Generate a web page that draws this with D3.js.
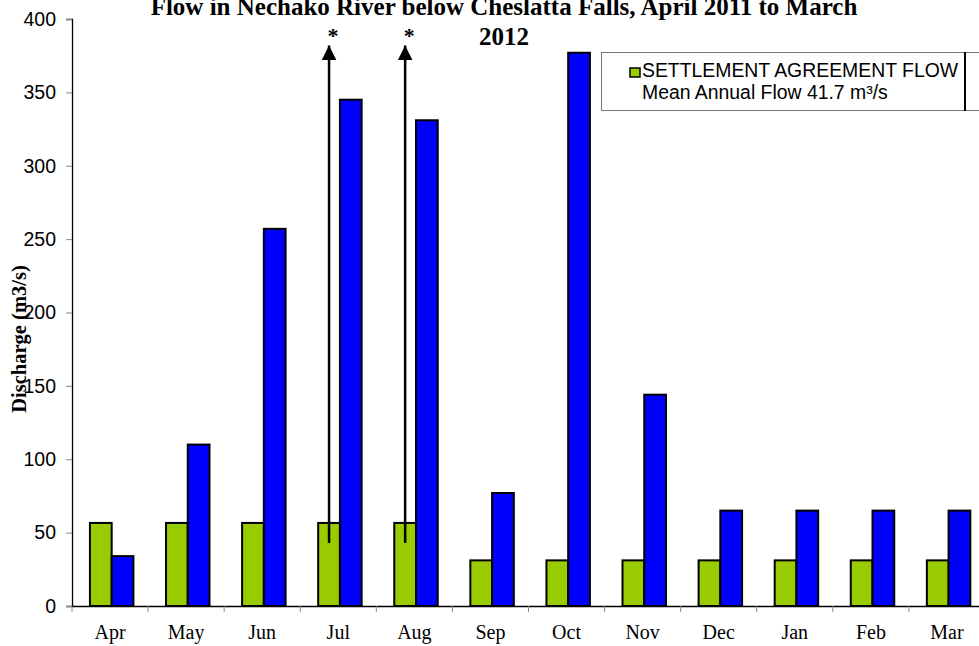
<!DOCTYPE html>
<html><head><meta charset="utf-8">
<script src="https://cdn.jsdelivr.net/npm/d3@7"></script>
<style>html,body{margin:0;padding:0;background:#fff;}svg{display:block;}</style>
</head><body>
<svg id="c" width="979" height="646"></svg>
<script>
const months = ["Apr","May","Jun","Jul","Aug","Sep","Oct","Nov","Dec","Jan","Feb","Mar"];
const settlementFlow = [56.6,56.6,56.6,56.6,56.6,31.1,31.1,31.1,31.1,31.1,31.1,31.1];
const actualFlow = [34,110,257,345,331,77,377,144,65,65,65,65];
const yTicks = [0,50,100,150,200,250,300,350,400];
const arrowMonths = ["Jul","Aug"];
const arrowFrom = 43, arrowTo = 382;
const titleLines = ["Flow in Nechako River below Cheslatta Falls, April 2011 to March","2012"];
const legendLines = ["SETTLEMENT AGREEMENT FLOW","Mean Annual Flow 41.7 m\u00b3/s"];
const seriesNames = ["settlement","actual"];
const colors = {settlement:"#99CC00", actual:"#0000FF"};

const svg = d3.select("#c");
const x = d3.scaleBand().domain(months).range([72,985]).padding(0);
const xs = d3.scaleBand().domain(seriesNames).range([0,x.bandwidth()]).paddingInner(0).paddingOuter(0.75).align(0.55);
const y = d3.scaleLinear().domain([0,400]).range([606,19]);

// bars
const g = svg.append("g");
months.forEach((m,i)=>{
  [["settlement",settlementFlow[i]],["actual",actualFlow[i]]].forEach(([s,v])=>{
    g.append("rect")
      .attr("x", x(m)+xs(s)).attr("y", y(v))
      .attr("width", xs.bandwidth()).attr("height", y(0)-y(v))
      .attr("fill", colors[s]).attr("stroke","#000").attr("stroke-width",2);
  });
});

// y axis
const ya = svg.append("g").attr("transform","translate(72,0)")
  .call(d3.axisLeft(y).tickValues(yTicks).tickSize(6).tickPadding(10));
ya.select(".domain").attr("stroke","#000").attr("stroke-width",1.3);
ya.selectAll(".tick line").attr("stroke","#888");
ya.selectAll(".tick text").attr("font-family","Liberation Sans, Arial, sans-serif").attr("font-size",19.5).attr("fill","#000");

// x axis
const xa = svg.append("g").attr("transform","translate(0,606)")
  .call(d3.axisBottom(x).tickSize(0).tickPadding(19));
xa.select(".domain").attr("stroke","#000").attr("stroke-width",1.3);
xa.selectAll(".tick text").attr("font-family","Liberation Serif, Times New Roman, serif").attr("font-size",20).attr("fill","#000");
months.forEach(m=>{
  xa.append("line").attr("x1",x(m)).attr("x2",x(m)).attr("y1",0).attr("y2",6).attr("stroke","#888");
});

// arrows
const defs = svg.append("defs");
defs.append("marker").attr("id","ah").attr("viewBox","0 0 10 10").attr("refX",10).attr("refY",5)
  .attr("markerWidth",15).attr("markerHeight",15).attr("markerUnits","userSpaceOnUse").attr("orient","auto")
  .append("path").attr("d","M0,0L10,5L0,10Z").attr("fill","#000");
arrowMonths.forEach(m=>{
  const ax = x(m)+xs("settlement")+xs.bandwidth()/2;
  svg.append("line").attr("x1",ax).attr("x2",ax).attr("y1",y(arrowFrom)).attr("y2",y(arrowTo))
    .attr("stroke","#000").attr("stroke-width",2.5).attr("marker-end","url(#ah)");
  svg.append("text").attr("x",ax+4).attr("y",43).attr("text-anchor","middle")
    .attr("font-family","Liberation Serif, Times New Roman, serif").attr("font-weight","bold").attr("font-size",22).text("*");
});

// title
titleLines.forEach((t,i)=>{
  svg.append("text").attr("x",504).attr("y",15+i*30).attr("text-anchor","middle")
    .attr("font-family","Liberation Serif, Times New Roman, serif").attr("font-weight","bold").attr("font-size",25).text(t);
});

// y axis title
svg.append("text").attr("transform","translate(26,339) rotate(-90)").attr("text-anchor","middle")
  .attr("font-family","Liberation Serif, Times New Roman, serif").attr("font-weight","bold").attr("font-size",20.5).text("Discharge (m3/s)");

// legend
const lg = svg.append("g");
lg.append("rect").attr("x",601.5).attr("y",52.5).attr("width",400).attr("height",58).attr("fill","#fff").attr("stroke","#777").attr("stroke-width",1);
lg.append("line").attr("x1",965).attr("x2",965).attr("y1",52).attr("y2",111).attr("stroke","#000").attr("stroke-width",2);
lg.append("rect").attr("x",630).attr("y",68).attr("width",10).attr("height",9).attr("fill",colors.settlement).attr("stroke","#000").attr("stroke-width",1.5);
legendLines.forEach((t,i)=>{
  lg.append("text").attr("x",642).attr("y",77+i*22)
    .attr("font-family","Liberation Sans, Arial, sans-serif").attr("font-size",19.4).text(t);
});
</script>
</body></html>
